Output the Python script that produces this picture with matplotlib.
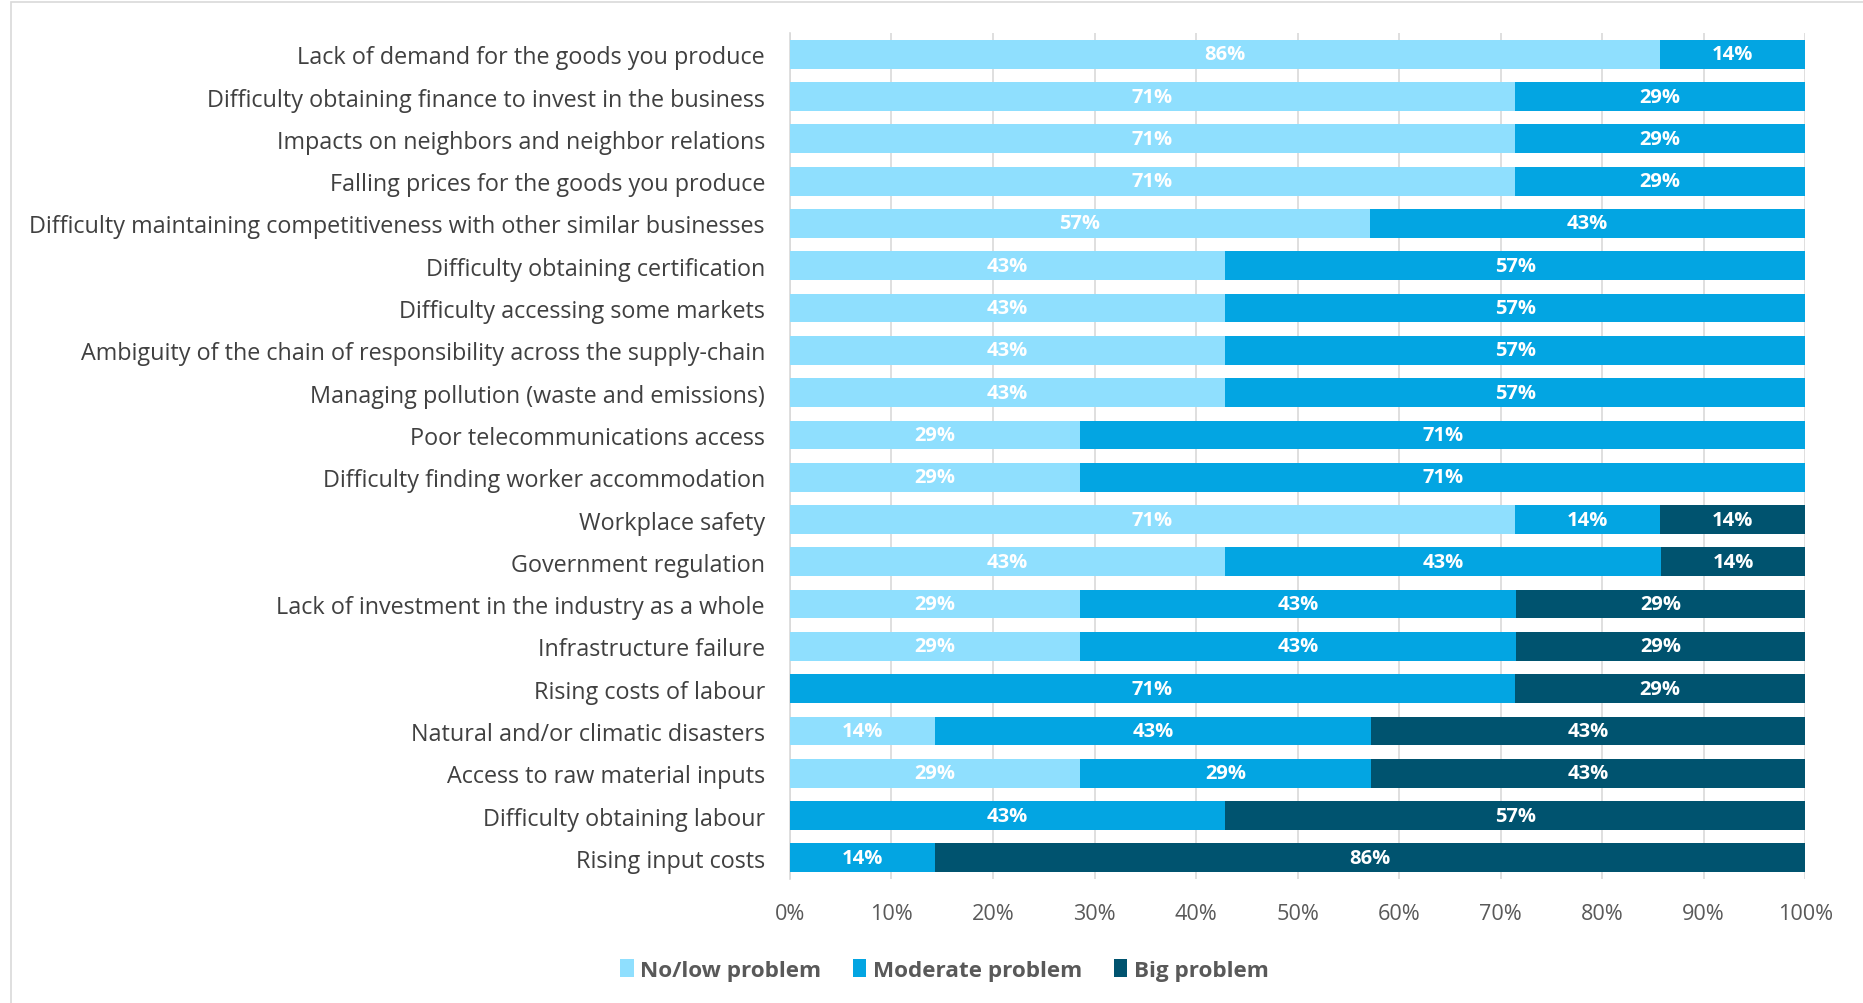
import numpy as np
import matplotlib
matplotlib.use("Agg")
import matplotlib.pyplot as plt
from matplotlib.patches import Rectangle

plt.rcParams['font.family'] = ['Open Sans', 'DejaVu Sans']

# Categories, top to bottom
categories = [
    "Lack of demand for the goods you produce",
    "Difficulty obtaining finance to invest in the business",
    "Impacts on neighbors and neighbor relations",
    "Falling prices for the goods you produce",
    "Difficulty maintaining competitiveness with other similar businesses",
    "Difficulty obtaining certification",
    "Difficulty accessing some markets",
    "Ambiguity of the chain of responsibility across the supply-chain",
    "Managing pollution (waste and emissions)",
    "Poor telecommunications access",
    "Difficulty finding worker accommodation",
    "Workplace safety",
    "Government regulation",
    "Lack of investment in the industry as a whole",
    "Infrastructure failure",
    "Rising costs of labour",
    "Natural and/or climatic disasters",
    "Access to raw material inputs",
    "Difficulty obtaining labour",
    "Rising input costs",
]

# Shares (%) per problem level
no_low = [85.7, 71.4, 71.4, 71.4, 57.1, 42.9, 42.9, 42.9, 42.9, 28.6,
          28.6, 71.4, 42.9, 28.6, 28.6, 0.0, 14.3, 28.6, 0.0, 0.0]
moderate = [14.3, 28.6, 28.6, 28.6, 42.9, 57.1, 57.1, 57.1, 57.1, 71.4,
            71.4, 14.3, 42.9, 42.9, 42.9, 71.4, 42.9, 28.6, 42.9, 14.3]
big = [0.0, 0.0, 0.0, 0.0, 0.0, 0.0, 0.0, 0.0, 0.0, 0.0,
       0.0, 14.3, 14.3, 28.6, 28.6, 28.6, 42.9, 42.9, 57.1, 85.7]

series_names = ["No/low problem", "Moderate problem", "Big problem"]
colors = ["#8FDFFE", "#03A5E2", "#00536F"]
xticks = [0, 10, 20, 30, 40, 50, 60, 70, 80, 90, 100]

fig = plt.figure(figsize=(18.63, 10.04), dpi=100)
ax = fig.add_axes([0.424, 0.1235, 0.545, 0.8425])

# figure frame
fig.patches.append(Rectangle((0.006, -0.01), 1.0, 1.007, transform=fig.transFigure,
                             fill=False, edgecolor="#D9D9D9", linewidth=1.2))

y = np.arange(len(categories))
left = np.zeros(len(categories))
for vals, name, col in zip([no_low, moderate, big], series_names, colors):
    vals = np.array(vals)
    ax.barh(y, vals, left=left, height=0.68, color=col, label=name, zorder=3)
    for yi, l, v in zip(y, left, vals):
        if v > 0:
            ax.text(l + v / 2, yi, f"{v:.0f}%", ha="center", va="center",
                    color="white", fontsize=14.5, fontweight="bold", zorder=4)
    left += vals

ax.set_ylim(len(categories) - 0.5, -0.5)
ax.set_xlim(0, 100)
ax.set_yticks(y)
ax.set_yticklabels(categories, fontsize=16.8, color="#404040")
ax.set_xticks(xticks)
ax.set_xticklabels([f"{t}%" for t in xticks], fontsize=15.6, color="#595959")
ax.tick_params(axis="y", length=0, pad=18)
ax.tick_params(axis="x", length=0, pad=17)
ax.grid(axis="x", color="#D9D9D9", linewidth=1.2, zorder=0)
for s in ["top", "right", "bottom"]:
    ax.spines[s].set_visible(False)
ax.spines["left"].set_color("#D9D9D9")
ax.spines["left"].set_linewidth(1.2)

leg = fig.legend(loc="center", bbox_to_anchor=(0.507, 0.033), ncol=3, frameon=False,
                 handlelength=0.6, handleheight=0.9, handletextpad=0.3, columnspacing=1.4,
                 prop={"size": 16.2, "weight": "bold"})
for t in leg.get_texts():
    t.set_color("#595959")

fig.savefig("out.png", dpi=100)
